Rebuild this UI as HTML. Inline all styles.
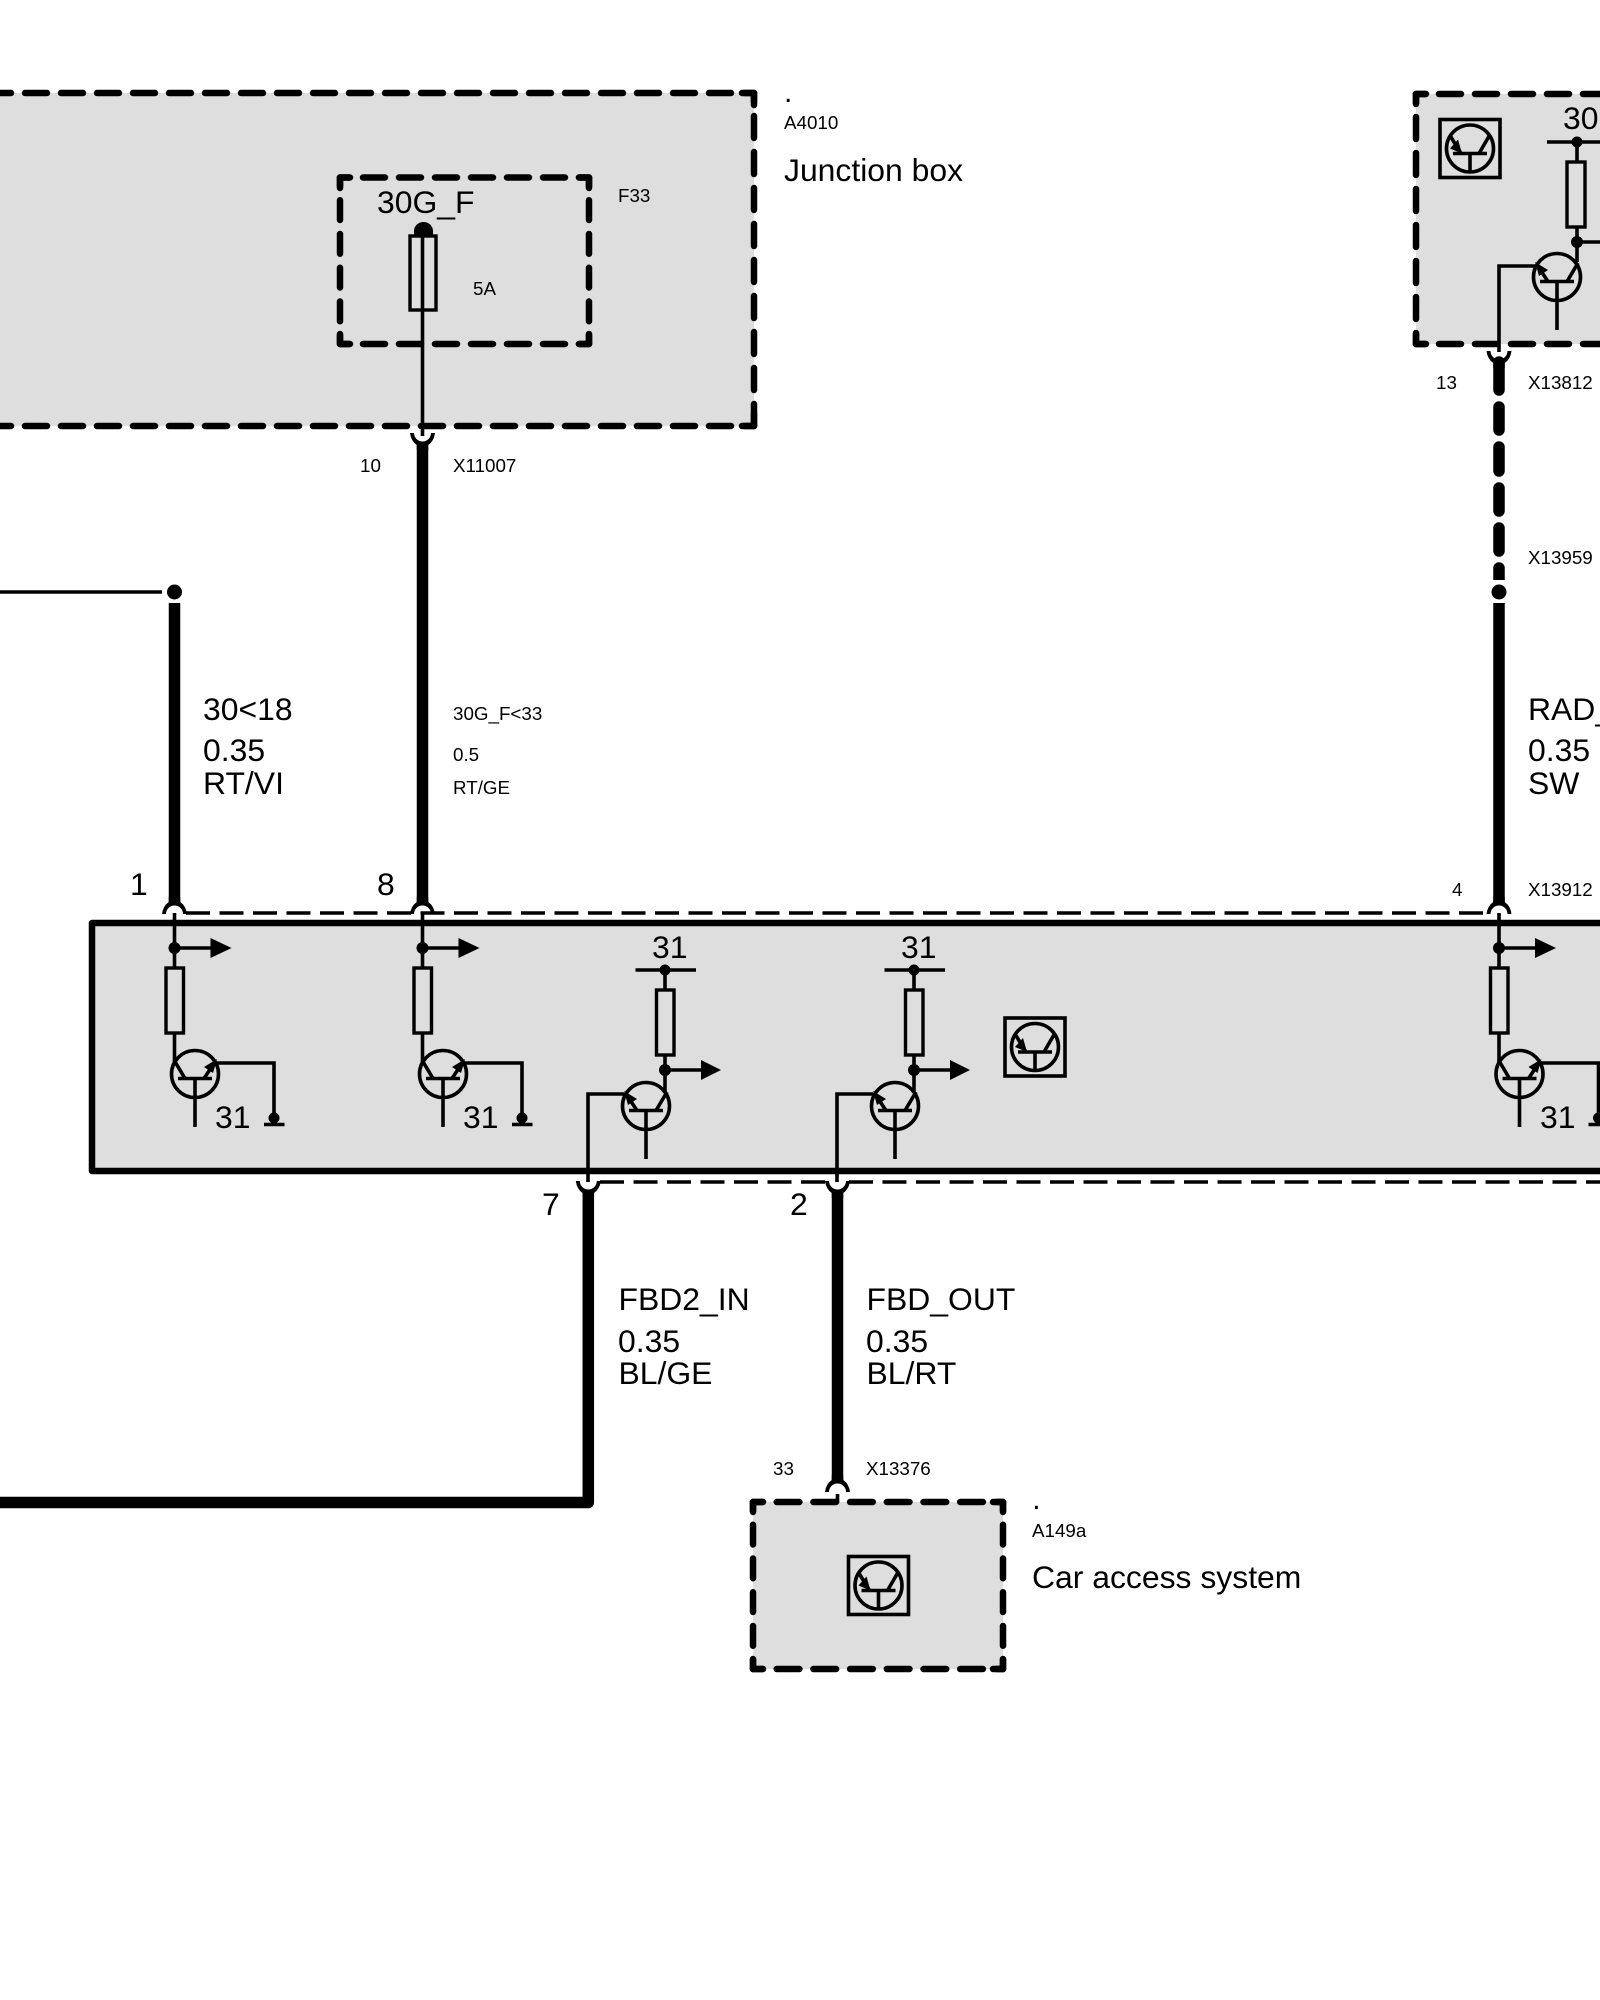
<!DOCTYPE html>
<html lang="en">
<head>
<meta charset="utf-8">
<title>Wiring diagram</title>
<style>
html,body{margin:0;padding:0;background:#fff;width:1600px;height:2000px;overflow:hidden}
svg{display:block}
text{font-family:"Liberation Sans",Arial,sans-serif;fill:#000}
.b{font-size:31.9px}
.s{font-size:18.8px}
.p{font-size:30px}
.t{fill:none;stroke:#000;stroke-width:3.6}
.w{fill:none;stroke:#000;stroke-width:11.5}
.d{fill:none;stroke:#000;stroke-width:6.5;stroke-linecap:round;stroke-dasharray:22 14;stroke-dashoffset:13}
.d4{stroke-dasharray:19.75 14;stroke-dashoffset:11}
.k{fill:none;stroke:#000;stroke-width:6.5;stroke-linejoin:round;stroke-linecap:round}
.thin{fill:none;stroke:#000;stroke-width:3.6;stroke-dasharray:24 9.5}
.r{fill:none;stroke:#000;stroke-width:3.4}
</style>
</head>
<body>
<svg width="1600" height="2000" viewBox="0 0 1600 2000" xmlns="http://www.w3.org/2000/svg">
<defs>
  <path id="cap" d="M-12.5 1Q-11.5 -7 -5.75 -11V-16H5.75V-11Q11.5 -7 12.5 1L8.5 1A8.5 8.5 0 0 0 -8.5 1Z" fill="#000"/>
  <g id="tb">
    <circle cx="0" cy="0" r="23.5" class="t"/>
    <path d="M-17 4.5H17M0 4.5V53M10 4.5L21 -14M-9 4.5L-20 -12" class="t"/>
    <polygon points="-22,-15 -18,-1 -9,-7" fill="#000"/>
  </g>
  <g id="sym">
    <rect x="-30" y="-29" width="60" height="58" class="t"/>
    <circle cx="0" cy="0" r="23.5" class="t"/>
    <path d="M-17 5H17M0 5V23M9 5L20 -14M-9 5L-20 -13" class="t"/>
    <polygon points="-8,5 -20,0 -12,-9" fill="#000"/>
  </g>
  <g id="low">
    <path d="M0 913V968M0 1033V1062M0 948H36" class="t"/>
    <circle cx="0" cy="948" r="6"/>
    <polygon points="36,938 36,958 57,948" fill="#000"/>
    <rect x="-8.500" y="968" width="17.500" height="65" class="r"/>
    <use href="#tb" transform="translate(20.500 1074) scale(-1 1)"/>
    <path d="M42 1063H99.500V1118" class="t"/>
    <circle cx="99.500" cy="1118" r="5.500"/>
    <path d="M89.500 1124.500H110" class="t"/>
  </g>
  <g id="up">
    <path d="M-29.500 970H31M0 970V990M0 1055V1093M0 1070H36" class="t"/>
    <circle cx="0" cy="970" r="5.500"/>
    <circle cx="0" cy="1070" r="6"/>
    <polygon points="36,1060 36,1080 56,1070" fill="#000"/>
    <rect x="-8.500" y="990" width="17.500" height="65" class="r"/>
    <use href="#tb" transform="translate(-19 1106)"/>
    <path d="M-41 1094H-77V1182" class="t"/>
  </g>
</defs>

<!-- Junction box A4010 -->
<rect x="-10" y="93" width="764" height="333" fill="#dedede"/>
<path d="M754 93H-10" class="d"/>
<path d="M754 93V426" class="d"/>
<path d="M754 426H-10" class="d"/>
<path d="M742 93H754V105M754 414V426H742" class="k"/>

<!-- F33 -->
<path d="M340 177.500H589" class="d"/>
<path d="M340 344H589" class="d"/>
<path d="M340 177.500V344" class="d d4"/>
<path d="M589 177.500V344" class="d d4"/>
<path d="M350 177.500H340V188M579 177.500H589V188M340 334V344H350M589 334V344H579" class="k"/>
<path d="M422.500 232V436" class="t"/>
<rect x="410" y="236" width="26" height="74" class="r"/>
<path d="M414 236v-5a9.500 9 0 0 1 19 0v5z" fill="#000"/>
<text x="377" y="213" class="b">30G_F</text>
<text x="618" y="202" class="s">F33</text>
<text x="473" y="295" class="s">5A</text>
<text x="360" y="472" class="s">10</text>
<text x="453" y="472" class="s">X11007</text>
<text x="784" y="102" class="p">.</text>
<text x="784" y="129" class="s">A4010</text>
<text x="784" y="181" class="b">Junction box</text>

<!-- Top-right box -->
<rect x="1416" y="94" width="200" height="250" fill="#dedede"/>
<path d="M1416 94H1610" class="d"/>
<path d="M1416 344H1610" class="d"/>
<path d="M1416 94V344" class="d"/>
<path d="M1426 94H1416V104M1416 334V344H1426" class="k"/>
<use href="#sym" transform="translate(1470 148.500)"/>
<path d="M1547 142H1610M1577 142V162M1577 227V262M1577 242H1610" class="t"/>
<circle cx="1577" cy="142" r="5.500"/>
<circle cx="1577" cy="242" r="6"/>
<rect x="1567" y="162" width="18" height="65" class="r"/>
<use href="#tb" transform="translate(1557 277)"/>
<path d="M1535 266H1499V352" class="t"/>
<use href="#cap" transform="translate(1499 352) scale(1 -1)"/>
<text x="1563" y="129" class="b">30</text>
<text x="1436" y="389" class="s">13</text>
<text x="1528" y="389" class="s">X13812</text>
<text x="1528" y="564" class="s">X13959</text>

<!-- Thick dashed wire -->
<path d="M1499 362V390M1499 407V430M1499 447V471M1499 488V511M1499 528V551" fill="none" stroke="#000" stroke-width="11.500" stroke-linecap="round"/>
<path d="M1499 568V580" fill="none" stroke="#000" stroke-width="11.500"/>
<path d="M1493.250 568a5.750 5.750 0 0 1 11.500 0z" fill="#000"/>
<circle cx="1499" cy="592" r="7.500"/>
<path d="M1499 603V905" class="w"/>
<use href="#cap" transform="translate(1499 913)"/>

<!-- Left wire 1 -->
<path d="M0 592H162" class="t"/>
<circle cx="174.500" cy="592" r="7.500"/>
<path d="M174.500 603V905" class="w"/>
<use href="#cap" transform="translate(174.500 913)"/>

<!-- Wire 8 -->
<path d="M422.500 444V905" class="w"/>
<use href="#cap" transform="translate(422.500 434) scale(1 -1)"/>
<use href="#cap" transform="translate(422.500 913)"/>

<!-- Main box -->
<rect x="92" y="923" width="1530" height="248" fill="#dedede" stroke="#000" stroke-width="6.500" stroke-linejoin="round"/>
<path d="M186 913H1488" class="thin"/>
<path d="M600 1182H826M849 1182H1600" class="thin"/>

<use href="#low" transform="translate(174.500 0)"/>
<use href="#low" transform="translate(422.500 0)"/>
<use href="#low" transform="translate(1499 0)"/>
<use href="#up" transform="translate(665 0)"/>
<use href="#up" transform="translate(914 0)"/>
<use href="#sym" transform="translate(1035 1047)"/>

<text x="215" y="1128" class="b">31</text>
<text x="463" y="1128" class="b">31</text>
<text x="1540" y="1128" class="b">31</text>
<text x="652" y="958" class="b">31</text>
<text x="901" y="958" class="b">31</text>

<text x="130" y="895" class="b">1</text>
<text x="377" y="895" class="b">8</text>
<text x="1452" y="896" class="s">4</text>
<text x="1528" y="896" class="s">X13912</text>
<text x="542" y="1215" class="b">7</text>
<text x="790" y="1215" class="b">2</text>

<!-- Wire labels -->
<text x="203" y="720" class="b">30&lt;18</text>
<text x="203" y="761" class="b">0.35</text>
<text x="203" y="794" class="b">RT/VI</text>
<text x="453" y="720" class="s">30G_F&lt;33</text>
<text x="453" y="761" class="s">0.5</text>
<text x="453" y="794" class="s">RT/GE</text>
<text x="1528" y="720" class="b">RAD_</text>
<text x="1528" y="761" class="b">0.35</text>
<text x="1528" y="794" class="b">SW</text>
<text x="618.500" y="1310" class="b">FBD2_IN</text>
<text x="618" y="1352" class="b">0.35</text>
<text x="618.500" y="1384" class="b">BL/GE</text>
<text x="866.500" y="1310" class="b">FBD_OUT</text>
<text x="866" y="1352" class="b">0.35</text>
<text x="866.500" y="1384" class="b">BL/RT</text>

<!-- Lower wires -->
<use href="#cap" transform="translate(588.300 1182) scale(1 -1)"/>
<use href="#cap" transform="translate(837.500 1182) scale(1 -1)"/>
<path d="M588.300 1191V1502.500H-5" class="w" stroke-linejoin="round"/>
<path d="M837.500 1191V1481" class="w"/>
<use href="#cap" transform="translate(837.500 1491)"/>
<path d="M837.500 1494V1502" class="t"/>

<!-- Car access system -->
<rect x="753" y="1502" width="250" height="167" fill="#dedede"/>
<path d="M753 1502H1003" class="d" style="stroke-dasharray:22.7 14"/>
<path d="M753 1669H1003" class="d" style="stroke-dasharray:22.7 14"/>
<path d="M753 1502V1669" class="d d4"/>
<path d="M1003 1502V1669" class="d d4"/>
<path d="M763 1502H753V1512M993 1502H1003V1512M753 1659V1669H763M1003 1659V1669H993" class="k"/>
<use href="#sym" transform="translate(878.500 1585.500)"/>
<text x="773" y="1475" class="s">33</text>
<text x="866" y="1475" class="s">X13376</text>
<text x="1032.300" y="1509" class="p">.</text>
<text x="1032" y="1537" class="s">A149a</text>
<text x="1032" y="1588" class="b">Car access system</text>
</svg>
</body>
</html>
